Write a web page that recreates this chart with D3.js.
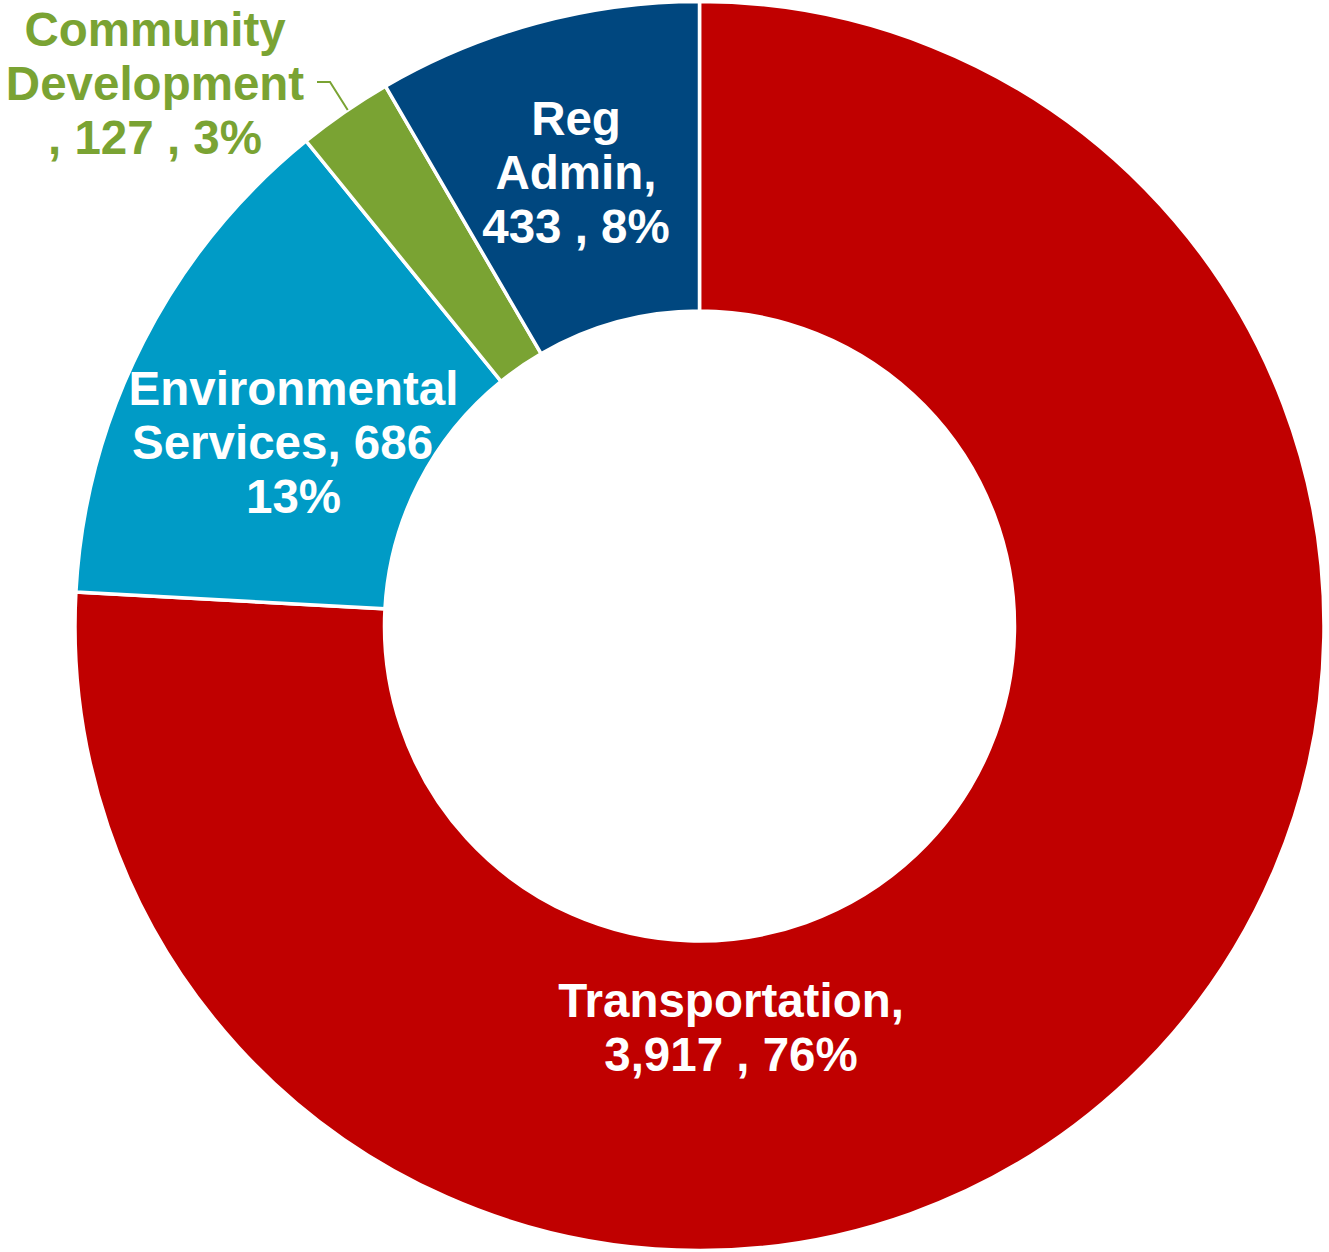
<!DOCTYPE html>
<html>
<head>
<meta charset="utf-8">
<script src="https://cdn.jsdelivr.net/npm/d3@7"></script>
<style>
  html, body { margin: 0; padding: 0; background: #ffffff; }
  svg { display: block; }
  text { font-family: "Liberation Sans", Arial, sans-serif; font-weight: bold; }
</style>
</head>
<body>
<svg id="chart" width="1329" height="1252"></svg>
<script>
// Budget by department (clockwise from 12 o'clock)
const categories = ["Transportation", "Environmental Services", "Community Development", "Reg Admin"];
const values = [3917, 686, 127, 433];
const percentLabels = ["76%", "13%", "3%", "8%"];
const labelLines = [
  ["Transportation,", "3,917 , 76%"],
  ["Environmental", "Services, 686", "13%"],
  ["Community", "Development", ", 127 , 3%"],
  ["Reg", "Admin,", "433 , 8%"]
];
const colors = ["#C00000", "#009BC6", "#7AA333", "#00477F"];

// Layout
const width = 1329, height = 1252;
const cx = 699.5, cy = 626;
const outerR = 624.5, innerR = 315;
const fontSize = 47.5, lineHeight = 54;
// first-baseline anchor of each label block, relative to the centre
const labelOffsets = [[31.5, 391], [-406, -221], [-544.5, -580], [-123.5, -491]];
// horizontal nudge per line (wrapped lines keep their trailing space)
const lineShift = [[0, 0], [0, -11, 0], [0, 0, 0], [0, 0, 0]];
const labelFill = ["#ffffff", "#ffffff", "#7AA333", "#ffffff"];

const svg = d3.select("#chart");
const g = svg.append("g").attr("transform", `translate(${cx},${cy})`);

const pie = d3.pie().sort(null).value(d => d)(values);
const arc = d3.arc().innerRadius(innerR).outerRadius(outerR);

g.selectAll("path.slice")
  .data(pie)
  .join("path")
  .attr("class", "slice")
  .attr("d", arc)
  .attr("fill", (d, i) => colors[i])
  .attr("stroke", "#ffffff")
  .attr("stroke-width", 3.5)
  .attr("stroke-linejoin", "miter");

// leader line for the small outside label
const small = pie[2];
const edge = d3.arc().innerRadius(outerR).outerRadius(outerR).centroid(small);
const lx = labelOffsets[2][0] + 162, ly = labelOffsets[2][1] + 36;
g.append("polyline")
  .attr("points", [[lx, ly], [lx + 13, ly], [edge[0] + 3, edge[1] - 2]].map(p => p.join(",")).join(" "))
  .attr("fill", "none")
  .attr("stroke", colors[2])
  .attr("stroke-width", 2);

// labels
pie.forEach((d, i) => {
  const t = g.append("text")
    .attr("text-anchor", "middle")
    .attr("font-size", fontSize)
    .attr("fill", labelFill[i]);
  labelLines[i].forEach((line, k) => {
    t.append("tspan")
      .attr("x", labelOffsets[i][0] + lineShift[i][k])
      .attr("y", labelOffsets[i][1] + k * lineHeight)
      .text(line);
  });
});
</script>
</body>
</html>
